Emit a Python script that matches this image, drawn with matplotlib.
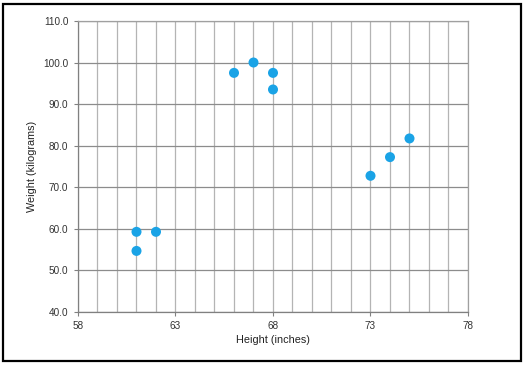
import matplotlib
matplotlib.use("Agg")
import matplotlib.pyplot as plt
from matplotlib.patches import Rectangle
import numpy as np

heights = [61, 61, 62, 66, 67, 68, 68, 73, 74, 75]
weights = [59.2, 54.6, 59.2, 97.5, 100.0, 97.5, 93.5, 72.7, 77.2, 81.7]
x_ticks = [58, 63, 68, 73, 78]
y_ticks = [40, 50, 60, 70, 80, 90, 100, 110]

plt.rcParams['font.family'] = ['Liberation Sans', 'DejaVu Sans']

fig = plt.figure(figsize=(5.28, 3.65), dpi=100)
ax = fig.add_axes([78/528, 1 - 311.5/365, 390/528, 290.5/365])

# grid
for x in range(58, 79):
    ax.axvline(x, color='#b4b4b4', lw=0.9, zorder=1)
for y in y_ticks:
    ax.axhline(y, color='#8c8c8c', lw=0.9, zorder=1)

ax.scatter(heights, weights, s=52, color='#1aa3e6', edgecolors='none', zorder=3)

ax.set_xlim(58, 78)
ax.set_ylim(40, 110)
ax.set_xticks(x_ticks)
ax.set_yticks(y_ticks)
ax.set_xticklabels([str(v) for v in x_ticks])
ax.set_yticklabels([f"{v:.1f}" for v in y_ticks])
ax.tick_params(axis='both', labelsize=7.2, length=3, width=0.8, direction='out', pad=4)
ax.tick_params(axis='both', colors='#808080', labelcolor='#333333')

for side in ['top', 'right']:
    ax.spines[side].set_color('#a0a0a0')
    ax.spines[side].set_linewidth(0.9)
for side in ['left', 'bottom']:
    ax.spines[side].set_color('#808080')
    ax.spines[side].set_linewidth(0.9)

ax.set_xlabel('Height (inches)', fontsize=7.8, color='#222222', labelpad=3)
ax.set_ylabel('Weight (kilograms)', fontsize=7.8, color='#222222', labelpad=4)

fig.patches.append(Rectangle((3/528, 4/365), 518/528, 357/365, transform=fig.transFigure,
                             fill=False, edgecolor='black', lw=1.6))

fig.savefig('out.png', dpi=100)
